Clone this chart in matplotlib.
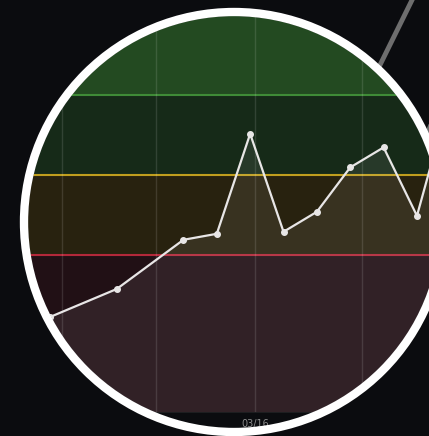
import matplotlib
matplotlib.use("Agg")
import matplotlib.pyplot as plt
from matplotlib.patches import Circle
from matplotlib.lines import Line2D

# datos
dias = [0, 2, 4, 5, 6, 7, 8, 9, 10, 11, 12]
valores = [34.5, 41.5, 53.8, 55.3, 80.3, 55.8, 60.8, 71.9, 76.9, 59.8, 90.0]
fechas_pos = [0.36, 3.18, 6.15, 9.35]
fechas = ["03/14", "03/15", "03/16", "03/17"]
umbral_rojo = 50
umbral_amarillo = 70
umbral_verde = 90

fondo = "#0b0c0f"
fig = plt.figure(figsize=(4.29, 4.36), dpi=100, facecolor=fondo)
ax = fig.add_axes([0, 24 / 436, 1, 412 / 436])
ax.set_facecolor("none")
ax.set_xlim(-1.499, 11.361)
ax.set_ylim(10.75, 113.75)
for s in ax.spines.values():
    s.set_visible(False)

# bandas
ax.axhspan(umbral_verde, 200, color="#234a21", zorder=0)
ax.axhspan(umbral_amarillo, umbral_verde, color="#162a18", zorder=0)
ax.axhspan(umbral_rojo, umbral_amarillo, color="#28220f", zorder=0)
ax.axhspan(-100, umbral_rojo, color="#211015", zorder=0)
ax.axhline(umbral_verde, color="#3f8b37", lw=1.5, zorder=1)
ax.axhline(umbral_amarillo, color="#c09e1e", lw=1.5, zorder=1)
ax.axhline(umbral_rojo, color="#b3283a", lw=1.5, zorder=1)

ax.set_xticks(fechas_pos, fechas)
ax.set_yticks([])
ax.grid(axis="x", color="#ffffff", alpha=0.12, lw=1, zorder=1)
ax.tick_params(axis="x", length=0, pad=5, labelsize=7, labelcolor="#8c8c8c")

ax.fill_between(dias, valores, 10.75, color="#ffffff", alpha=0.075, lw=0, zorder=2)
ax.plot(dias, valores, color="#e8e6e6", lw=1.6, marker="o", ms=4, zorder=3)

# lupa
cx, cy, r = 2.34, 2.14, 2.06
circ = Circle((cx, cy), r, transform=fig.dpi_scale_trans)
for a in ax.get_children():
    a.set_clip_path(circ)
for g in ax.get_xgridlines():
    g.set_clip_path(circ)

# el texto no se recorta en Agg: ocultar las fechas fuera de la lupa
fig.canvas.draw()
for t in ax.get_xticklabels():
    bb = t.get_window_extent()
    xi = (bb.x0 + bb.x1) / 2 / fig.dpi
    yi = (bb.y0 + bb.y1) / 2 / fig.dpi
    if (xi - cx) ** 2 + (yi - cy) ** 2 > r ** 2:
        t.set_visible(False)

fig.add_artist(Line2D([4.14, 3.80], [4.40, 3.71], color="#6e6e6e", lw=3.5,
                      transform=fig.dpi_scale_trans, zorder=5))
fig.add_artist(Line2D([4.27, 4.40], [3.02, 3.32], color="#6e6e6e", lw=3.5,
                      transform=fig.dpi_scale_trans, zorder=5))
fig.add_artist(Circle((cx, cy), r + 0.04, fill=False, edgecolor="white", lw=6.0,
                      transform=fig.dpi_scale_trans, zorder=10))

plt.savefig("out.png", dpi=100, facecolor=fondo)
